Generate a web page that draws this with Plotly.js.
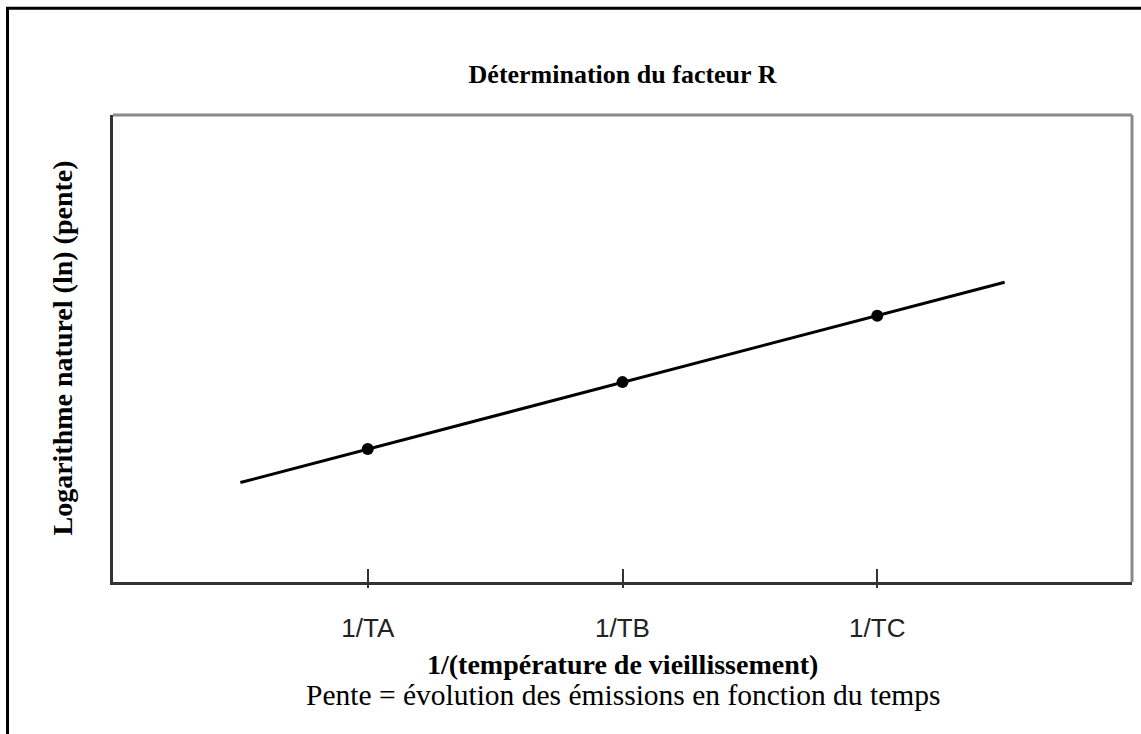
<!DOCTYPE html>
<html>
<head>
<meta charset="utf-8">
<script src="https://cdn.plot.ly/plotly-3.0.1.min.js"></script>
<style>html,body{margin:0;padding:0;background:#fff;}#chart{width:1141px;height:734px;}</style>
</head>
<body>
<div id="chart"></div>
<script>
// Data
const tickPositions = [1, 2, 3];
const tickLabels = ["1/TA", "1/TB", "1/TC"];
const pointX = [1, 2, 3];
const pointY = [2.85, 4.28, 5.70];
const lineX = [0.5, 3.5];
const lineY = [2.13, 6.42];

const titleText = "Détermination du facteur R";
const xTitleText = "1/(température de vieillissement)";
const subTitleText = "Pente = évolution des émissions en fonction du temps";
const yTitleText = "Logarithme naturel (ln) (pente)";

const serif = "Liberation Serif, Times New Roman, serif";

const traces = [
  {x: lineX, y: lineY, mode: "lines", type: "scatter",
   line: {color: "#000", width: 3}, hoverinfo: "skip", showlegend: false},
  {x: pointX, y: pointY, mode: "markers", type: "scatter",
   marker: {color: "#000", size: 12}, showlegend: false}
];

const layout = {
  width: 1141, height: 734,
  margin: {l: 113, r: 9, t: 115, b: 152, pad: 0},
  paper_bgcolor: "#fff", plot_bgcolor: "#fff",
  showlegend: false,
  title: {text: "<b>" + titleText + "</b>", font: {family: serif, size: 26, color: "#000"},
          x: 0.5, xref: "paper", xanchor: "center", y: 1 - 74/734, yref: "container", yanchor: "middle"},
  xaxis: {range: [0, 4], tickvals: tickPositions, ticktext: tickLabels,
          ticks: "inside", ticklen: 13, tickwidth: 2, tickcolor: "#333",
          showline: true, linecolor: "#333", linewidth: 3,
          showgrid: false, zeroline: false, fixedrange: true,
          ticklabelstandoff: 21,
          tickfont: {family: "Liberation Sans, Arial, sans-serif", size: 26, color: "#222"}},
  xaxis2: {overlaying: "x", matches: "x", side: "bottom", range: [0, 4], tickvals: tickPositions,
           ticktext: ["", "", ""], ticks: "outside", ticklen: 5, tickwidth: 2, tickcolor: "#333",
           showline: false, showgrid: false, zeroline: false, showticklabels: false},
  yaxis: {range: [0, 10], showticklabels: false, ticks: "",
          showline: true, linecolor: "#333", linewidth: 3,
          showgrid: false, zeroline: false, fixedrange: true},
  shapes: [
    {type: "line", xref: "paper", yref: "paper", x0: 0, x1: 1, y0: 1, y1: 1, line: {color: "#8a8a8a", width: 3}},
    {type: "line", xref: "paper", yref: "paper", x0: 1, x1: 1, y0: 0, y1: 1, line: {color: "#8a8a8a", width: 3}},
    {type: "rect", xref: "paper", yref: "paper", x0: -0.1035, x1: 1.3, y0: -0.6, y1: 1.2285, line: {color: "#000", width: 3}, fillcolor: "rgba(0,0,0,0)", layer: "below"}
  ],
  annotations: [
    {text: "<b>" + xTitleText + "</b>", xref: "paper", yref: "paper", x: 0.5, y: -0.1756,
     xanchor: "center", yanchor: "middle", showarrow: false, font: {family: serif, size: 28, color: "#000"}},
    {text: subTitleText, xref: "paper", yref: "paper", x: 0.5, y: -0.242,
     xanchor: "center", yanchor: "middle", showarrow: false, font: {family: serif, size: 29.5, color: "#000"}},
    {text: "<b>" + yTitleText + "</b>", xref: "paper", yref: "paper", x: -0.0500, y: 0.5, textangle: -90,
     xanchor: "center", yanchor: "middle", showarrow: false, font: {family: serif, size: 28, color: "#000"}}
  ]
};
traces.push({x: [null], y: [null], xaxis: "x2", type: "scatter", mode: "lines", showlegend: false});
Plotly.newPlot("chart", traces, layout, {displayModeBar: false, staticPlot: true});
</script>
</body>
</html>
